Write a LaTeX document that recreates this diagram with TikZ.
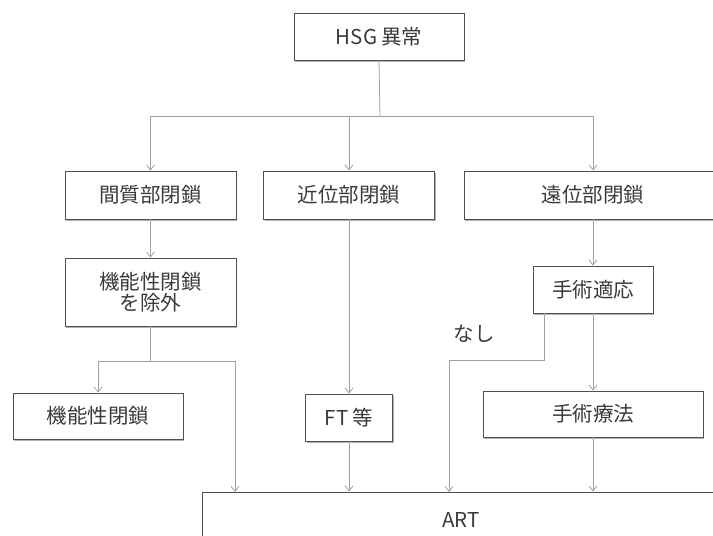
\documentclass[tikz,border=0pt]{standalone}
\usepackage{fontspec}
\setmainfont{Noto Sans CJK JP}
\usetikzlibrary{arrows.meta,shadows,calc}
\definecolor{txt}{HTML}{3A3A3A}
\definecolor{lin}{HTML}{A0A0A0}
\definecolor{bdr}{HTML}{505050}
\begin{document}
\begin{tikzpicture}[x=1pt,y=-1pt,
  box/.style={draw=bdr,line width=0.9pt,fill=white,text=txt,inner sep=0pt,
    align=center,font=\fontsize{20.5}{24}\selectfont,
    drop shadow={shadow xshift=1.2pt,shadow yshift=-2pt,opacity=0.6}},
  conn/.style={draw=lin,line width=0.8pt},
  arr/.style={conn,-{Straight Barb[length=5pt,width=8pt]}},
  lbl/.style={text=txt,font=\fontsize{20.5}{24}\selectfont,inner sep=0pt}]
\useasboundingbox (0,0) rectangle (713,536);
\node[box,minimum width=170,minimum height=47] (hsg) at (379,36.5) {HSG\hspace{4pt}異常};
\node[box,minimum width=171,minimum height=48] (kan) at (150.5,195) {間質部閉鎖};
\node[box,minimum width=171,minimum height=48] (kin) at (349,195) {近位部閉鎖};
\node[box,minimum width=258,minimum height=48] (en) at (593,195) {};
\node[lbl] at (593,195) {遠位部閉鎖};
\node[box,minimum width=171,minimum height=68] (jog) at (150.5,292) {機能性閉鎖\\[-3pt]を除外};
\node[box,minimum width=170,minimum height=46] (kin2) at (98,416) {機能性閉鎖};
\node[box,minimum width=87,minimum height=47] (ft) at (349,417.5) {FT\hspace{4pt}等};
\node[box,minimum width=120,minimum height=47] (tek) at (593,289.5) {手術適応};
\node[box,minimum width=220,minimum height=46] (ryo) at (593,414) {手術療法};
\node[box,minimum width=518,minimum height=56] (art) at (461,520) {};
\node[lbl] (artl) at (461,520) {ART};
\node[lbl] (nashi) at (474,334) {なし};
% connectors
\coordinate (bus) at (380,116);
\draw[conn] (hsg.south) -- (bus);
\draw[arr] (bus) -| (kan.north);
\draw[arr] (bus) -| (kin.north);
\draw[arr] (bus) -| (en.north);
\draw[arr] (kan.south) -- (jog.north);
\coordinate (jb) at (150.5,361);
\coordinate (ja) at (235,492);
\draw[conn] (jog.south) -- (jb);
\draw[arr] (jb) -| (kin2.north);
\draw[arr] (jb) -| (ja);
\draw[arr] (kin.south) -- (ft.north);
\draw[arr] (ft.south) -- (ft.south |- art.north);
\draw[arr] (en.south) -- (tek.north);
\coordinate (na) at (449,492);
\draw[arr] ([xshift=-49pt]tek.south) |- (449,360) -- (na);
\draw[arr] (tek.south) -- (ryo.north);
\draw[arr] (ryo.south) -- (ryo.south |- art.north);
\end{tikzpicture}
\end{document}
